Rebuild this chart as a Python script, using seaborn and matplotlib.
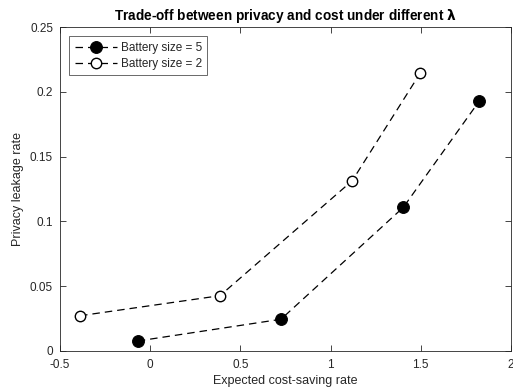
import matplotlib
matplotlib.use("Agg")
import matplotlib.pyplot as plt
import seaborn as sns
import pandas as pd

# Data
x_b5 = [-0.069, 0.725, 1.403, 1.824]
y_b5 = [0.0077, 0.0245, 0.1108, 0.1928]
x_b2 = [-0.389, 0.387, 1.120, 1.496]
y_b2 = [0.0272, 0.0427, 0.1314, 0.2142]
labels = ["Battery size = 5", "Battery size = 2"]
xticks = [-0.5, 0, 0.5, 1, 1.5, 2]
xticklabels = ["-0.5", "0", "0.5", "1", "1.5", "2"]
yticks = [0, 0.05, 0.1, 0.15, 0.2, 0.25]
yticklabels = ["0", "0.05", "0.1", "0.15", "0.2", "0.25"]

sns.set_theme(style="white")
plt.rcParams['font.family'] = ['Liberation Sans', 'DejaVu Sans']

fig = plt.figure(figsize=(5.13, 3.92), dpi=100)
ax = fig.add_axes([0.117, 0.1046, 0.879, 0.8264])

df5 = pd.DataFrame({"x": x_b5, "y": y_b5})
df2 = pd.DataFrame({"x": x_b2, "y": y_b2})

sns.lineplot(data=df5, x="x", y="y", ax=ax, sort=False, color="black",
             linestyle=(0, (6, 4)), linewidth=0.9, marker="o", markersize=8.5,
             markerfacecolor="black", markeredgecolor="black", label=labels[0])
sns.lineplot(data=df2, x="x", y="y", ax=ax, sort=False, color="black",
             linestyle=(0, (6, 4)), linewidth=0.9, marker="o", markersize=7.5,
             markerfacecolor="white", markeredgecolor="black", markeredgewidth=1.0,
             label=labels[1])

ax.set_xlim(-0.5, 2)
ax.set_ylim(0, 0.25)
ax.set_xticks(xticks)
ax.set_xticklabels(xticklabels)
ax.set_yticks(yticks)
ax.set_yticklabels(yticklabels)

spine_c = "#262626"
for s in ax.spines.values():
    s.set_visible(True)
    s.set_color(spine_c)
    s.set_linewidth(0.6)
ax.tick_params(direction="in", length=4, width=0.6, colors=spine_c,
               labelcolor="#262626", labelsize=8.5, top=True, right=True,
               bottom=True, left=True)
ax.tick_params(axis="x", pad=6)
ax.tick_params(axis="y", pad=5)

ax.set_xlabel("Expected cost-saving rate", fontsize=9, color="#262626", labelpad=3)
ax.set_ylabel("Privacy leakage rate", fontsize=9, color="#262626", labelpad=4)
ax.set_title("Trade-off between privacy and cost under different $\\boldsymbol{\\lambda}$",
             fontsize=9.8, fontweight="bold", color="black", pad=5)

leg = ax.legend(loc="upper left", frameon=True, fancybox=False, fontsize=8.5,
                handlelength=3.6, borderpad=0.45, labelspacing=0.35,
                handletextpad=0.3, borderaxespad=0.8)
leg.get_frame().set_edgecolor("#262626")
leg.get_frame().set_linewidth(0.6)

fig.savefig("out.png", dpi=100)
